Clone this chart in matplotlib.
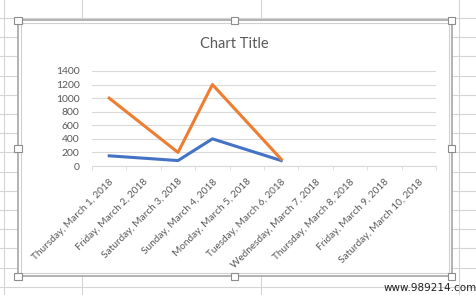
import matplotlib.pyplot as plt
from matplotlib.lines import Line2D
from matplotlib.patches import Rectangle

plt.rcParams['font.family'] = ['Lato', 'DejaVu Sans']

dates = ['Thursday, March 1, 2018', 'Friday, March 2, 2018', 'Saturday, March 3, 2018',
         'Sunday, March 4, 2018', 'Monday, March 5, 2018', 'Tuesday, March 6, 2018',
         'Wednesday, March 7, 2018', 'Thursday, March 8, 2018', 'Friday, March 9, 2018',
         'Saturday, March 10, 2018']
days = [1, 3, 4, 6]
series1 = [150, 80, 400, 80]
series2 = [1000, 200, 1200, 100]

W, H = 477, 295
fig = plt.figure(figsize=(W / 100, H / 100), dpi=100)
fig.patch.set_facecolor('white')

# spreadsheet grid behind the chart
cell = '#d4d4d4'
for x in [4, 82, 261, 459]:
    fig.add_artist(Line2D([x / W, x / W], [0, 1], color=cell, lw=0.8, zorder=-5))
y = 18
while y < H:
    fig.add_artist(Line2D([0, 1], [1 - y / H, 1 - y / H], color=cell, lw=0.8, zorder=-5))
    y += 19.2

# chart area with frame and handles
x0, x1, y0, y1 = 18, 452, 20, 276
fig.add_artist(Rectangle((x0 / W, 1 - y1 / H), (x1 - x0) / W, (y1 - y0) / H,
                         facecolor='white', edgecolor='#a6a6a6', lw=1.2, zorder=-4))
fig.add_artist(Rectangle(((x0 + 3) / W, 1 - (y1 - 3) / H), (x1 - x0 - 6) / W, (y1 - y0 - 6) / H,
                         facecolor='none', edgecolor='#d0d0d0', lw=0.8, zorder=-3))
for hx in [x0, (x0 + x1) / 2, x1]:
    for hy in [y0, (y0 + y1) / 2, y1]:
        if hx == (x0 + x1) / 2 and hy == (y0 + y1) / 2:
            continue
        fig.add_artist(Rectangle(((hx - 3.5) / W, 1 - (hy + 3.5) / H), 7 / W, 7 / H,
                                 facecolor='white', edgecolor='#8c8c8c', lw=0.8, zorder=-2))

fig.text(234 / W, 1 - 44 / H, 'Chart Title', ha='center', va='center',
         fontsize=10.5, color='#595959')

ax = fig.add_axes([92 / W, 1 - 166 / H, 344 / W, 95 / H])
ax.set_facecolor('none')
ax.plot(days, series1, color='#4472c4', lw=2.2, solid_joinstyle='round')
ax.plot(days, series2, color='#ed7d31', lw=2.2, solid_joinstyle='round')

ax.set_xlim(0.5, len(dates) + 0.5)
ax.set_ylim(0, 1400)
ax.set_yticks(range(0, 1401, 200))
ax.set_xticks(range(1, len(dates) + 1))
ax.set_xticklabels(dates, rotation=45, ha='right', va='top', rotation_mode='anchor')
ax.set_xticks([i + 0.5 for i in range(len(dates) + 1)], minor=True)
ax.tick_params(axis='x', which='major', length=0, pad=8, labelsize=7.2, labelcolor='#595959')
ax.tick_params(axis='x', which='minor', length=3, color='#d9d9d9', direction='out')
ax.tick_params(axis='y', length=0, pad=9, labelsize=7.5, labelcolor='#595959')
ax.grid(axis='y', color='#d9d9d9', lw=0.8)
ax.set_axisbelow(True)
for s in ['top', 'right', 'left']:
    ax.spines[s].set_visible(False)
ax.spines['bottom'].set_color('#d9d9d9')

fig.text(1.0, 1 - 288 / H, 'www.989214.com', ha='right', va='center', fontsize=7.5,
         color='#222222', family='DejaVu Sans')

fig.savefig('out.png', dpi=100)
